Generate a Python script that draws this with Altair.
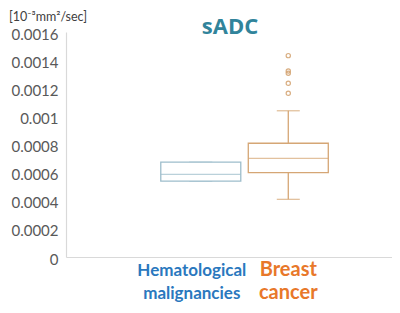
import altair as alt
import pandas as pd

# ---- data ----
categories = ["Hematological malignancies", "Breast cancer"]
q1 = [0.00054, 0.00060]
median = [0.000588, 0.000702]
q3 = [0.000674, 0.000809]
whisker_low = [0.00054, 0.00041]
whisker_high = [0.000674, 0.00104]
box_colors = ["#9DBDCB", "#D5A675"]

outlier_group = ["Breast cancer"] * 5
outlier_values = [0.001432, 0.001323, 0.001307, 0.001235, 0.001164]

label_text = ["Hematological\nmalignancies", "Breast\ncancer"]
label_colors = ["#2A78BE", "#E8782A"]
label_sizes = [17, 20]
label_dx = [-9, 0]

y_ticks = [0, 0.0002, 0.0004, 0.0006, 0.0008, 0.001, 0.0012, 0.0014, 0.0016]

boxes = pd.DataFrame({
    "group": categories, "q1": q1, "median": median, "q3": q3,
    "lo": whisker_low, "hi": whisker_high,
})
outliers = pd.DataFrame({"group": outlier_group, "value": outlier_values})
labels = pd.DataFrame({"group": categories, "text": label_text})

W, H = 326, 225

xscale = alt.Scale(type="band", domain=categories, paddingInner=0.0857,
                   paddingOuter=0.9057, align=0.598)
yscale = alt.Scale(domain=[0, 0.0016], nice=False, zero=True)
cscale = alt.Scale(domain=categories, range=box_colors)

X = alt.X("group:N", scale=xscale,
          axis=alt.Axis(title=None, labels=False, ticks=False,
                        domainColor="#D9D9D9", domainWidth=1.2))
Yaxis = alt.Axis(title=None, values=y_ticks, format="~g", grid=False,
                 ticks=False, labelPadding=8, labelFont="Lato",
                 labelFontSize=15, labelColor="#595959", labelOffset=2,
                 labelOverlap=False, labelFlush=False,
                 domainColor="#D9D9D9", domainWidth=1.2)

base = alt.Chart(boxes)

whiskers = base.mark_rule(strokeWidth=1.3).encode(
    x=X,
    y=alt.Y("lo:Q", scale=yscale, axis=Yaxis),
    y2="hi:Q",
    color=alt.Color("group:N", scale=cscale, legend=None),
)
caps_hi = base.mark_tick(size=23, thickness=1.3).encode(
    x=X, y=alt.Y("hi:Q", axis=Yaxis), color=alt.Color("group:N", scale=cscale, legend=None))
caps_lo = base.mark_tick(size=23, thickness=1.3).encode(
    x=X, y=alt.Y("lo:Q", axis=Yaxis), color=alt.Color("group:N", scale=cscale, legend=None))
box = base.mark_bar(fill="white", strokeWidth=1.3).encode(
    x=X, y=alt.Y("q1:Q", axis=Yaxis), y2="q3:Q",
    stroke=alt.Stroke("group:N", scale=cscale, legend=None),
)
med = base.mark_tick(size=80, thickness=1.3).encode(
    x=X, y=alt.Y("median:Q", axis=Yaxis), color=alt.Color("group:N", scale=cscale, legend=None))

outl = alt.Chart(outliers).mark_point(shape="circle", filled=False, size=18,
                                      strokeWidth=1.2, opacity=0.9).encode(
    x=X, y=alt.Y("value:Q", axis=Yaxis),
    color=alt.Color("group:N", scale=cscale, legend=None),
)

label_layers = []
for cat, col, sz, dx in zip(categories, label_colors, label_sizes, label_dx):
    label_layers.append(
        alt.Chart(labels).transform_filter(alt.datum.group == cat)
        .mark_text(font="Lato", fontWeight="bold", fontSize=sz, color=col,
                   lineBreak="\n", lineHeight=23, align="center",
                   baseline="alphabetic", dx=dx)
        .encode(x=X, y=alt.value(H + 19), text="text:N")
    )

title = alt.Chart(pd.DataFrame({"t": ["sADC"]})).mark_text(
    font="Open Sans", fontWeight="bold", fontSize=22, color="#31849B",
    align="center", baseline="alphabetic").encode(
    x=alt.value(164), y=alt.value(2), text="t:N")

unit = alt.Chart(pd.DataFrame({"t": ["[10⁻³mm²/sec]"]})).mark_text(
    font="Lato", fontSize=12.5, color="#404040",
    align="left", baseline="alphabetic").encode(
    x=alt.value(-57), y=alt.value(-11), text="t:N")

chart = alt.layer(whiskers, caps_hi, caps_lo, box, med, outl, *label_layers,
                  title, unit).properties(
    width=W, height=H,
    autosize=alt.AutoSizeParams(type="none"),
    padding={"left": 58, "top": 24, "right": 0, "bottom": 48},
    background="white",
).configure_view(stroke=None).configure_axisY(labelOverlap=False)

chart.save("out.html", embed_options={"renderer": "svg", "actions": False})
